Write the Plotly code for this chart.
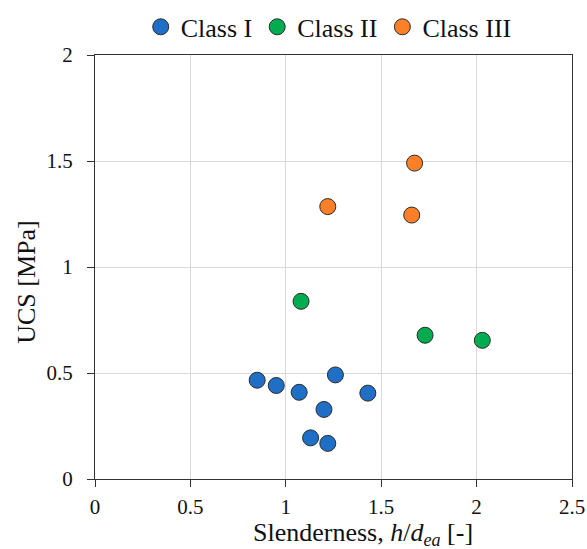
import plotly.graph_objects as go

class1_x = [0.85, 0.95, 1.07, 1.26, 1.43, 1.20, 1.13, 1.22]
class1_y = [0.466, 0.441, 0.409, 0.491, 0.405, 0.328, 0.194, 0.168]
class2_x = [1.08, 1.73, 2.03]
class2_y = [0.838, 0.678, 0.654]
class3_x = [1.675, 1.66, 1.22]
class3_y = [1.49, 1.245, 1.285]

names = ["Class I", "Class II", "Class III"]
colors = ["#1f6fc6", "#00ac4f", "#fd7f28"]
x_title = "Slenderness, <i>h</i>/<i>d</i><sub><i>ea</i></sub> [-]"
y_title = "UCS [MPa]"

FONT = "Liberation Serif"

fig = go.Figure()
for xs, ys, nm, c in zip([class1_x, class2_x, class3_x], [class1_y, class2_y, class3_y], names, colors):
    fig.add_trace(go.Scatter(
        x=xs, y=ys, mode="markers", name=nm,
        marker=dict(size=16, color=c, line=dict(color="#2b2b2b", width=1)),
    ))

fig.update_layout(
    width=587, height=549,
    margin=dict(l=95, r=15, t=55, b=70, autoexpand=False),
    paper_bgcolor="white", plot_bgcolor="white",
    font=dict(family=FONT, size=21, color="#111111"),
    showlegend=True,
    legend=dict(orientation="h", x=0.56, xref="container", xanchor="center",
                y=0.951, yref="container", yanchor="middle",
                font=dict(size=26), itemwidth=30, tracegroupgap=0,
                bgcolor="rgba(0,0,0,0)"),
    xaxis=dict(range=[0, 2.5], dtick=0.5, tick0=0, automargin=False,
               showgrid=True, gridcolor="#d9d9d9", gridwidth=1,
               showline=True, linecolor="#333333", linewidth=1, mirror=True,
               ticks="outside", ticklen=7, tickcolor="#333333",
               ticklabelstandoff=2,
               zeroline=False),
    yaxis=dict(range=[0, 2], dtick=0.5, tick0=0, automargin=False,
               showgrid=True, gridcolor="#d9d9d9", gridwidth=1,
               showline=True, linecolor="#333333", linewidth=1, mirror=True,
               ticks="outside", ticklen=7, tickcolor="#333333",
               ticklabelstandoff=10,
               zeroline=False),
    annotations=[
        dict(text=x_title, xref="paper", yref="paper", x=0.562, y=-0.13,
             xanchor="center", yanchor="middle", showarrow=False,
             font=dict(size=26)),
        dict(text=y_title, xref="paper", yref="paper", x=-0.145, y=0.4646,
             xanchor="center", yanchor="middle", showarrow=False, textangle=-90,
             font=dict(size=26)),
    ],
)

fig.write_html("out.html")
